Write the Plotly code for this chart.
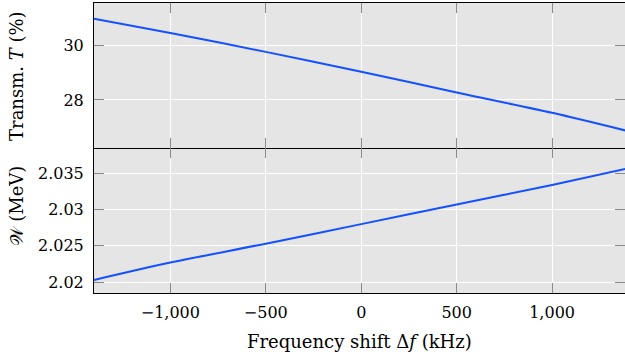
import plotly.graph_objects as go
from plotly.subplots import make_subplots

freq_shift_khz = [-1400, -1000, -500, 0, 500, 1000, 1400]
transmission_pct = [30.96, 30.44, 29.75, 29.03, 28.27, 27.53, 26.86]
energy_mev = [2.0203, 2.0227, 2.0253, 2.0280, 2.0307, 2.0334, 2.0357]

x_ticks = [-1000, -500, 0, 500, 1000]
t_ticks = [28, 30]
w_ticks = [2.02, 2.025, 2.03, 2.035]
w_tick_text = ["2.02", "2.025", "2.03", "2.035"]

BLUE = "#1450ff"
BG = "#e5e5e5"
TICKC = "#8a8a8a"
FONT = dict(family="DejaVu Serif", size=16, color="black")
TFONT = dict(family="DejaVu Serif", size=18, color="black")

fig = make_subplots(rows=2, cols=1, shared_xaxes=True, vertical_spacing=0.0)
fig.add_trace(go.Scatter(x=freq_shift_khz, y=transmission_pct, mode="lines",
                         line=dict(color=BLUE, width=2, shape="spline", smoothing=0.8),
                         showlegend=False), row=1, col=1)
fig.add_trace(go.Scatter(x=freq_shift_khz, y=energy_mev, mode="lines",
                         line=dict(color=BLUE, width=2, shape="spline", smoothing=0.8),
                         showlegend=False), row=2, col=1)

XR = [-1400, 1382]
xcommon = dict(range=XR, tickvals=x_ticks, tickformat=",", showgrid=True,
               gridcolor="white", gridwidth=1, zeroline=False, showline=True,
               linecolor="black", linewidth=1, ticks="inside",
               ticklen=10, tickcolor=TICKC, tickwidth=1, tickfont=FONT,
               ticklabelstandoff=5)
fig.update_xaxes(**xcommon)
fig.update_xaxes(showticklabels=False, mirror="ticks", row=1, col=1)
fig.update_xaxes(showticklabels=True, mirror=False, row=2, col=1)

ycommon = dict(showgrid=True, gridcolor="white", gridwidth=1, zeroline=False,
               showline=True, linecolor="black", linewidth=1, mirror=False,
               ticks="inside", ticklen=10, tickcolor=TICKC, tickwidth=1,
               tickfont=FONT, ticklabelstandoff=6)
fig.update_yaxes(range=[26.25, 31.53], tickvals=t_ticks, **ycommon, row=1, col=1)
fig.update_yaxes(range=[2.0185, 2.0385], tickvals=w_ticks, ticktext=w_tick_text,
                 **ycommon, row=2, col=1)

tickonly = dict(showticklabels=False, ticks="inside", ticklen=10, tickcolor=TICKC,
                showgrid=False, showline=False, zeroline=False)
fig.update_layout(
    yaxis3=dict(overlaying="y", side="right", anchor="x", range=[26.25, 31.53],
                tickvals=t_ticks, **tickonly),
    yaxis4=dict(overlaying="y2", side="right", anchor="x2", range=[2.0185, 2.0385],
                tickvals=w_ticks, **tickonly),
    xaxis3=dict(overlaying="x2", side="top", anchor="y2", range=XR,
                tickvals=x_ticks, **tickonly),
)
fig.add_trace(go.Scatter(x=[None], y=[None], yaxis="y3", xaxis="x", showlegend=False))
fig.add_trace(go.Scatter(x=[None], y=[None], yaxis="y4", xaxis="x2", showlegend=False))
fig.add_trace(go.Scatter(x=[None], y=[None], yaxis="y2", xaxis="x3", showlegend=False))

fig.update_layout(
    width=625, height=358,
    margin=dict(l=94, r=0, t=3, b=65),
    plot_bgcolor=BG, paper_bgcolor="white",
    font=FONT,
    annotations=[
        dict(text="Transm. <i>T</i> (%)", xref="paper", yref="paper",
             x=-0.146, y=0.75, textangle=-90, showarrow=False, font=TFONT,
             xanchor="center", yanchor="middle"),
        dict(text="\U0001D4B2 (MeV)", xref="paper", yref="paper",
             x=-0.146, y=0.30, textangle=-90, showarrow=False, font=TFONT,
             xanchor="center", yanchor="middle"),
        dict(text="Frequency shift Δ<i>f</i> (kHz)", xref="paper", yref="paper",
             x=0.5, y=-0.168, showarrow=False, font=TFONT,
             xanchor="center", yanchor="middle"),
    ],
)

fig.write_html("out.html")
